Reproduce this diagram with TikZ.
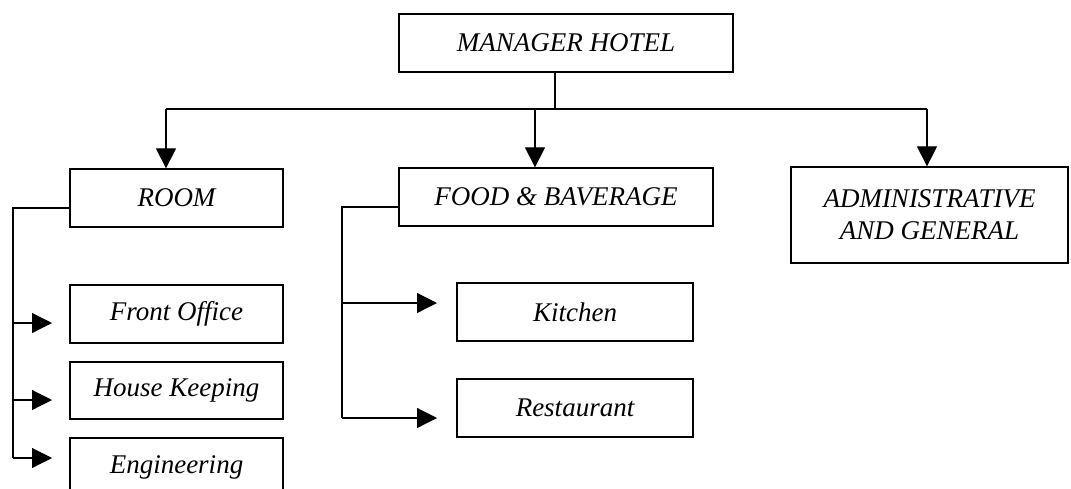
\documentclass[tikz,border=0pt]{standalone}
\usepackage{fontspec}
\setmainfont{Liberation Serif}
\usetikzlibrary{arrows.meta}
\begin{document}
\begin{tikzpicture}[x=1pt,y=-1pt,
  box/.style={draw, line width=1.3pt, inner sep=0pt, align=center,
    font=\fontsize{27}{32}\selectfont\itshape},
  conn/.style={line width=1.2pt},
  arr/.style={line width=1.2pt, -{Triangle[length=20pt,width=20pt]}}]
\useasboundingbox (0,0) rectangle (1071,488);
\node[box, minimum width=334pt, minimum height=58pt] (mgr) at (566,43) {MANAGER HOTEL};
\node[box, minimum width=213pt, minimum height=58pt] (room) at (176.5,198) {ROOM};
\node[box, minimum width=314pt, minimum height=58pt] (food) at (556,197) {FOOD \& BAVERAGE};
\node[box, minimum width=277pt, minimum height=96pt] (admin) at (929.5,215) {ADMINISTRATIVE\\AND GENERAL};
\node[box, minimum width=213pt, minimum height=58pt] (front) at (176.5,314) {Front Office};
\node[box, minimum width=213pt, minimum height=57pt] (house) at (176.5,390.5) {House Keeping};
\node[box, minimum width=213pt, minimum height=58pt] (eng) at (176.5,467) {Engineering};
\node[box, minimum width=236pt, minimum height=58pt] (kitchen) at (575,312) {Kitchen};
\node[box, minimum width=236pt, minimum height=58pt] (rest) at (575,408) {Restaurant};
% top tree
\coordinate (j) at (555,109);
\coordinate (hl) at (166,109);
\coordinate (hm) at (535,109);
\coordinate (hr) at (927,109);
\draw[conn] (mgr.south -| j) -- (j);
\draw[conn] (hl) -- (hr);
\draw[arr] (hl) -- (room.north -| hl);
\draw[arr] (hm) -- (food.north -| hm);
\draw[arr] (hr) -- (admin.north -| hr);
% room branch
\coordinate (r0) at (13,208);
\coordinate (r1) at (13,323);
\coordinate (r2) at (13,400);
\coordinate (r3) at (13,458);
\coordinate (t1) at (52,323);
\coordinate (t2) at (52,400);
\coordinate (t3) at (52,458);
\draw[conn] (room.west |- r0) -- (r0) -- (r3);
\draw[arr] (r1) -- (t1);
\draw[arr] (r2) -- (t2);
\draw[arr] (r3) -- (t3);
% food branch
\coordinate (f0) at (342,207);
\coordinate (f1) at (342,303);
\coordinate (f2) at (342,418);
\coordinate (k1) at (437,303);
\coordinate (k2) at (437,418);
\draw[conn] (food.west |- f0) -- (f0) -- (f2);
\draw[arr] (f1) -- (k1);
\draw[arr] (f2) -- (k2);
\end{tikzpicture}
\end{document}
